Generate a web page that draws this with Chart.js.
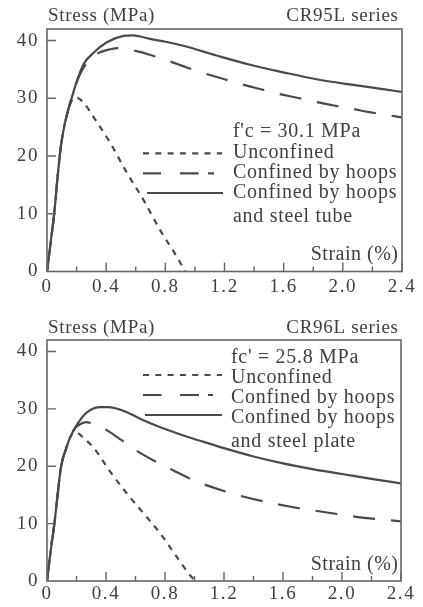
<!DOCTYPE html>
<html>
<head>
<meta charset="utf-8">
<script src="https://cdn.jsdelivr.net/npm/chart.js@4.4.1/dist/chart.umd.min.js"></script>
<style>
html,body{margin:0;padding:0;background:#fff;overflow:hidden;}
canvas{position:absolute;left:0;}
#c1{top:0;}
#c2{top:300px;}
</style>
</head>
<body>
<canvas id="c1" width="423" height="300"></canvas>
<canvas id="c2" width="423" height="307"></canvas>
<script>
// ---------- tick labels ----------
const xMajorValues = [0, 0.4, 0.8, 1.2, 1.6, 2.0, 2.4];
const xMinorValues = [0.2, 0.6, 1.0, 1.4, 1.8, 2.2];
const xTickLabels  = ['0', '0.4', '0.8', '1.2', '1.6', '2.0', '2.4'];
const yTickValues  = [0, 10, 20, 30, 40];
const yTickLabels  = ['0', '10', '20', '30', '40'];

// ---------- CR95L series (f'c = 30.1 MPa) ----------
const cr95Unconfined_strain = [0,0.027,0.049,0.072,0.094,0.117,0.15,0.175,0.2,0.25,0.303,0.427,0.54,0.652,0.764,0.877,0.935];
const cr95Unconfined_stress = [0,5.5,10.1,16.5,21.7,25.2,28.5,29.9,30.1,29.2,27.2,22.3,17.1,12.4,7.2,2.6,0];
const cr95Hoops_strain = [0,0.027,0.049,0.072,0.094,0.117,0.15,0.184,0.22,0.26,0.3,0.337,0.43,0.48,0.6,0.7,0.83,0.95,1.08,1.2,1.32,1.44,1.56,1.69,1.81,1.93,2.06,2.18,2.3,2.4];
const cr95Hoops_stress = [0,5.5,10.1,16.5,21.7,25.2,28.6,31.5,34.0,35.8,37.0,37.7,38.5,38.7,38.2,37.5,36.4,35.3,34.2,33.3,32.4,31.6,30.8,30.1,29.4,28.8,28.2,27.6,27.1,26.7];
const cr95Tube_strain = [0,0.027,0.049,0.072,0.094,0.117,0.15,0.184,0.202,0.247,0.315,0.405,0.517,0.58,0.63,0.697,0.8,0.922,1.147,1.372,1.597,1.822,2.047,2.271,2.4];
const cr95Tube_stress = [0,5.5,10.1,16.5,21.7,25.2,28.6,31.5,33.0,35.9,37.9,39.7,40.8,40.9,40.7,40.3,39.8,39.1,37.4,35.8,34.5,33.3,32.4,31.6,31.1];

// ---------- CR96L series (fc' = 25.8 MPa) ----------
const cr96Unconfined_strain = [0,0.027,0.05,0.072,0.095,0.13,0.155,0.175,0.2,0.253,0.32,0.43,0.54,0.654,0.768,0.88,0.98,1.01];
const cr96Unconfined_stress = [0,5.7,10,15,19.9,23.1,24.9,25.7,25.8,24.8,23.1,19.0,15.3,11.8,8.3,4.2,0.7,0];
const cr96Hoops_strain = [0,0.027,0.05,0.072,0.095,0.13,0.163,0.196,0.23,0.264,0.3,0.383,0.508,0.62,0.745,0.87,0.99,1.21,1.445,1.66,1.91,2.12,2.4];
const cr96Hoops_stress = [0,5.7,10,15,19.9,23.1,25.4,26.8,27.4,27.7,27.5,26.6,24.5,22.5,20.7,19.1,17.6,15.6,14.0,12.9,11.9,11.1,10.4];
const cr96Plate_strain = [0,0.027,0.05,0.072,0.095,0.13,0.163,0.207,0.25,0.3,0.36,0.42,0.48,0.542,0.654,0.768,0.881,0.993,1.106,1.2,1.4,1.6,1.8,2.0,2.2,2.4];
const cr96Plate_stress = [0,5.7,10,15,19.9,23.1,25.4,27.4,28.9,29.9,30.3,30.3,30.0,29.4,28.0,26.8,25.75,24.8,23.9,23.15,21.7,20.5,19.5,18.65,17.8,17.0];

// ---------- styling ----------
const LINE = '#4a4a4a';
const TEXT = '#404040';
const FRAME = '#666666';
const SERIF = "'Liberation Serif', 'Times New Roman', serif";
const DASHED = [22, 16];
const DOTTED = [6, 6];

function pts(xs, ys) { return xs.map((x, i) => ({ x: x, y: ys[i] })); }

function ds(xs, ys, dash) {
  return {
    data: pts(xs, ys),
    borderColor: LINE,
    borderWidth: 2.2,
    borderDash: dash,
    pointRadius: 0,
    fill: false,
    cubicInterpolationMode: 'monotone'
  };
}

function txt(ctx, s, x, y, align, size, spacing) {
  ctx.save();
  ctx.font = size + 'px ' + SERIF;
  ctx.fillStyle = TEXT;
  ctx.textBaseline = 'alphabetic';
  ctx.letterSpacing = spacing + 'px';
  let w = ctx.measureText(s).width;
  let xx = x;
  if (align === 'right') xx = x - w + spacing;
  ctx.textAlign = 'left';
  ctx.fillText(s, xx, y);
  ctx.restore();
}

function sample(ctx, x1, x2, y, dash) {
  ctx.save();
  ctx.strokeStyle = LINE;
  ctx.lineWidth = 2.2;
  ctx.setLineDash(dash);
  ctx.beginPath();
  ctx.moveTo(x1, y);
  ctx.lineTo(x2, y);
  ctx.stroke();
  ctx.restore();
}

function makeChart(id, datasets, pad, xAxisH, deco) {
  const decoPlugin = {
    id: 'deco',
    beforeDraw(chart) {
      chart.ctx.letterSpacing = '1.6px';
    },
    afterDraw(chart) {
      const ctx = chart.ctx;
      const a = chart.chartArea;
      const xs = chart.scales.x, ys = chart.scales.y;
      ctx.save();
      ctx.letterSpacing = '0px';
      // frame
      ctx.strokeStyle = FRAME;
      ctx.lineWidth = 1.6;
      ctx.setLineDash([]);
      ctx.strokeRect(a.left, a.top, a.right - a.left, a.bottom - a.top);
      // inward tick marks
      ctx.lineWidth = 1.4;
      ctx.beginPath();
      xs.ticks.forEach(t => {
        const px = xs.getPixelForValue(t.value);
        const major = xMajorValues.some(m => Math.abs(m - t.value) < 1e-6);
        const len = major ? 9 : 5;
        ctx.moveTo(px, a.bottom);
        ctx.lineTo(px, a.bottom - len);
      });
      ys.ticks.forEach(t => {
        if (t.value === 0) return;
        const py = ys.getPixelForValue(t.value);
        ctx.moveTo(a.left, py);
        ctx.lineTo(a.left + 9, py);
      });
      ctx.stroke();
      ctx.restore();
      deco(ctx, a);
    }
  };
  return new Chart(document.getElementById(id), {
    type: 'line',
    data: { datasets: datasets },
    options: {
      responsive: false,
      animation: false,
      events: [],
      layout: { padding: pad },
      plugins: { legend: { display: false }, tooltip: { enabled: false } },
      scales: {
        x: {
          type: 'linear', min: 0, max: 2.4,
          afterBuildTicks(scale) {
            scale.ticks = xMajorValues.concat(xMinorValues).sort((p, q) => p - q).map(v => ({ value: v }));
          },
          afterFit(scale) { scale.height = xAxisH; },
          grid: { display: false, drawTicks: false },
          border: { display: false },
          ticks: {
            autoSkip: false, maxRotation: 0, padding: xAxisH > 27 ? 4 : 2,
            color: TEXT, font: { family: SERIF, size: 19 },
            callback(v) {
              const i = xMajorValues.findIndex(m => Math.abs(m - v) < 1e-6);
              return i >= 0 ? xTickLabels[i] : '';
            }
          }
        },
        y: {
          type: 'linear', min: 0, max: 42,
          afterBuildTicks(scale) { scale.ticks = yTickValues.map(v => ({ value: v })); },
          afterFit(scale) { scale.width = 47; },
          grid: { display: false, drawTicks: false },
          border: { display: false },
          ticks: {
            padding: 8, color: TEXT, font: { family: SERIF, size: 19 },
            callback(v) {
              const i = yTickValues.indexOf(v);
              return i >= 0 ? yTickLabels[i] : '';
            }
          }
        }
      }
    },
    plugins: [decoPlugin]
  });
}

// ---------- top chart ----------
makeChart('c1', [
  ds(cr95Unconfined_strain, cr95Unconfined_stress, DOTTED),
  ds(cr95Hoops_strain, cr95Hoops_stress, DASHED),
  ds(cr95Tube_strain, cr95Tube_stress, [])
], { left: 0, right: 21, top: 29, bottom: 0 }, 28.5, function (ctx, a) {
  txt(ctx, 'Stress (MPa)', 48, 20.5, 'left', 19, 0.7);
  txt(ctx, 'CR95L series', 398, 20.5, 'right', 19, 0.7);
  txt(ctx, "f'c = 30.1 MPa", 233, 137, 'left', 20, 0.7);
  txt(ctx, 'Unconfined', 233, 157.5, 'left', 20, 0.7);
  txt(ctx, 'Confined by hoops', 233, 177.5, 'left', 20, 0.7);
  txt(ctx, 'Confined by hoops', 233, 197.5, 'left', 20, 0.7);
  txt(ctx, 'and steel tube', 233, 221.5, 'left', 20, 0.7);
  txt(ctx, 'Strain (%)', 398, 260, 'right', 20, 0.5);
  sample(ctx, 143, 222, 153.3, [6, 6.3]);
  sample(ctx, 143, 214, 173.3, [18, 19, 18.5, 9.5, 6, 100]);
  sample(ctx, 147, 223, 193, []);
});

// ---------- bottom chart ----------
makeChart('c2', [
  ds(cr96Unconfined_strain, cr96Unconfined_stress, DOTTED),
  ds(cr96Hoops_strain, cr96Hoops_stress, DASHED),
  ds(cr96Plate_strain, cr96Plate_stress, [])
], { left: 0, right: 22, top: 40, bottom: 0 }, 26, function (ctx, a) {
  txt(ctx, 'Stress (MPa)', 48, 33, 'left', 19, 0.7);
  txt(ctx, 'CR96L series', 398, 33, 'right', 19, 0.7);
  txt(ctx, "fc' = 25.8 MPa", 231, 62.7, 'left', 20, 0.7);
  txt(ctx, 'Unconfined', 231, 82.7, 'left', 20, 0.7);
  txt(ctx, 'Confined by hoops', 231, 102.7, 'left', 20, 0.7);
  txt(ctx, 'Confined by hoops', 231, 122.7, 'left', 20, 0.7);
  txt(ctx, 'and steel plate', 231, 146.7, 'left', 20, 0.7);
  txt(ctx, 'Strain (%)', 398, 270, 'right', 20, 0.5);
  sample(ctx, 143, 222, 75, [6, 6.3]);
  sample(ctx, 143, 214, 95, [18.5, 18.5, 19, 9, 5, 100]);
  sample(ctx, 145, 222, 115, []);
});
</script>
</body>
</html>
